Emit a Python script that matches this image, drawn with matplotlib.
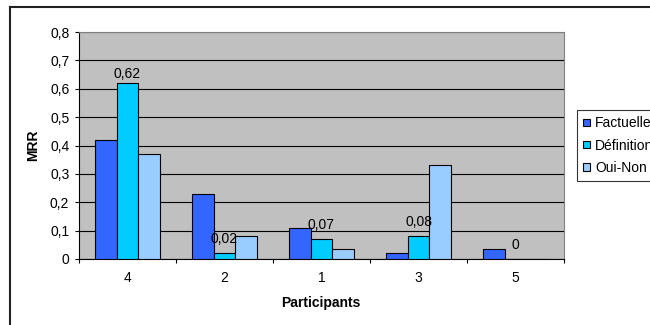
import matplotlib.pyplot as plt
import numpy as np
from matplotlib.lines import Line2D
from matplotlib.ticker import FuncFormatter, FixedLocator

plt.rcParams['font.family'] = ['Liberation Sans', 'DejaVu Sans']
plt.rcParams['font.size'] = 10

participants = ['4', '2', '1', '3', '5']
series = ['Factuelles', 'Définitions', 'Oui-Non']
factuelles = [0.42, 0.23, 0.11, 0.02, 0.035]
definitions = [0.62, 0.02, 0.07, 0.08, 0.0]
oui_non = [0.37, 0.08, 0.035, 0.33, 0.0]
colors = ['#3366FF', '#00CCFF', '#99CCFF']

fig = plt.figure(figsize=(6.5, 3.25), dpi=100)
ax = fig.add_axes([79 / 650, 66 / 325, 485 / 650, 227 / 325])
ax.set_facecolor('#C0C0C0')

x = np.arange(len(participants))
w = 1 / 4.5
for i, (vals, name, c) in enumerate(zip([factuelles, definitions, oui_non], series, colors)):
    ax.bar(x + (i - 1) * w, vals, w, color=c, edgecolor='black', linewidth=0.8,
           label=name, zorder=3)

# étiquettes de valeur sur la série Définitions
offsets = [2, 7, 7, 7, 7]
for xi, v, off in zip(x, definitions, offsets):
    ax.annotate(f'{v:g}'.replace('.', ','), (xi, v), xytext=(0, off),
                textcoords='offset pixels', ha='center', va='bottom', fontsize=10)

ax.set_xlim(-0.5, len(participants) - 0.5)
ax.set_ylim(0, 0.8)
ax.set_yticks(np.arange(0, 0.81, 0.1))
ax.yaxis.set_major_formatter(FuncFormatter(lambda v, p: f'{v:.1f}'.replace('.', ',') if v > 0 else '0'))
ax.grid(axis='y', color='black', linewidth=0.8, zorder=1)

ax.xaxis.set_major_locator(FixedLocator(np.arange(-0.5, len(participants))))
ax.set_xticklabels([])
ax.set_xticks(x, minor=True)
ax.set_xticklabels(participants, minor=True)
ax.tick_params(axis='x', which='major', direction='out', length=3, width=0.8)
ax.tick_params(axis='x', which='minor', length=0, pad=9)
ax.tick_params(axis='y', direction='out', length=3, width=0.8, pad=4)

for s in ['top', 'right']:
    ax.spines[s].set_color('#808080')
for s in ['left', 'bottom']:
    ax.spines[s].set_color('black')
    ax.spines[s].set_linewidth(0.8)

fig.text(33 / 650, 1 - 145 / 325, 'MRR', rotation=90, fontweight='bold',
         ha='center', va='center', fontsize=10)
fig.text(321 / 650, 1 - 303 / 325, 'Participants', fontweight='bold',
         ha='center', va='center', fontsize=10)

leg = fig.legend(loc='upper left', bbox_to_anchor=(577 / 650, 1 - 110 / 325),
                 frameon=True, fancybox=False, edgecolor='black', fontsize=10,
                 handlelength=0.45, handleheight=0.45, handletextpad=0.4,
                 borderpad=0.45, labelspacing=0.6, borderaxespad=0)
leg.get_frame().set_linewidth(0.8)

# cadre extérieur du graphique
fig.add_artist(Line2D([10 / 650, 10 / 650], [0, 1 - 7 / 325], color='#222222', lw=1.5))
fig.add_artist(Line2D([10 / 650, 1], [1 - 7 / 325, 1 - 7 / 325], color='#222222', lw=1.5))

fig.savefig('out.png', dpi=100)
